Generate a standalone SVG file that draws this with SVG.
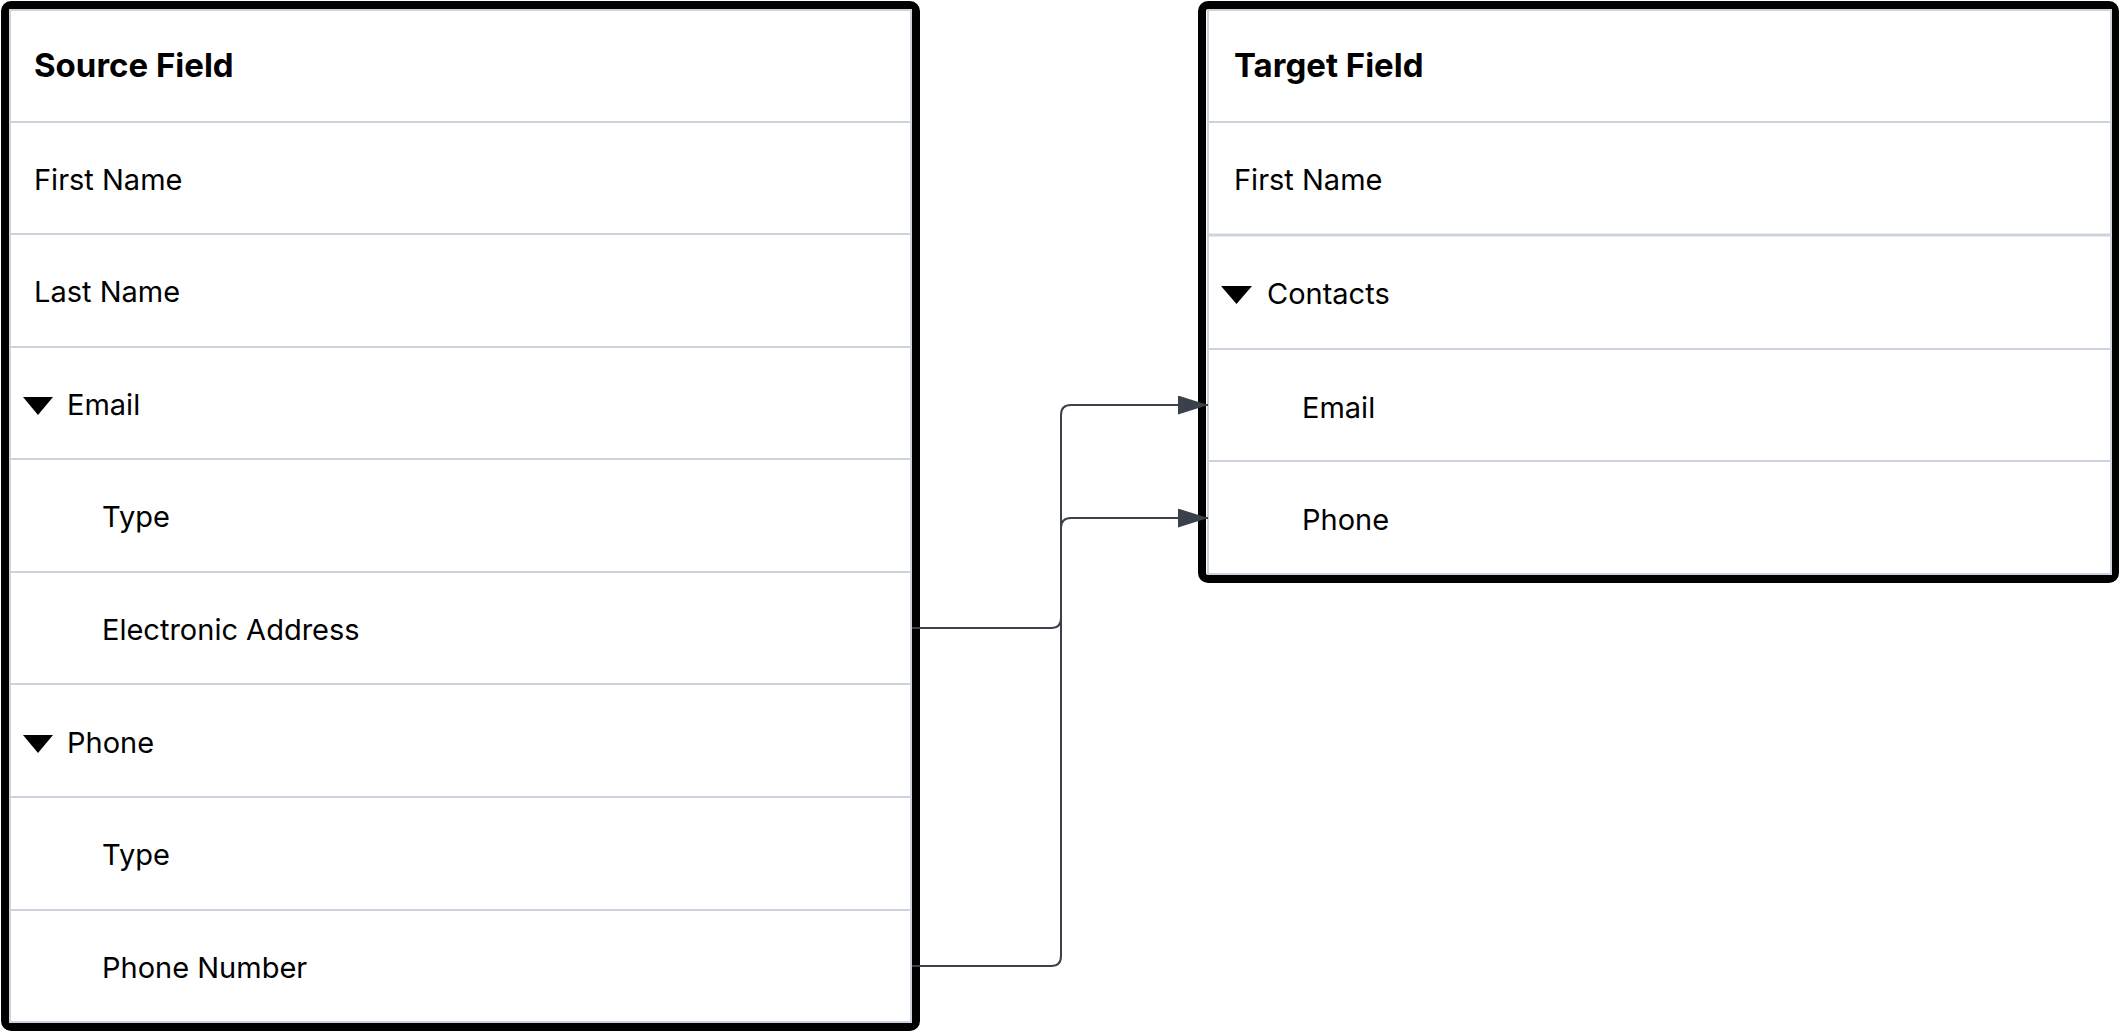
<svg xmlns="http://www.w3.org/2000/svg" width="2119" height="1031" viewBox="0 0 2119 1031">
<style>
.frame{fill:#ffffff;stroke:#000000;stroke-width:8}
.inner{fill:none;stroke:#cdd3dc;stroke-width:2}
.sep{stroke:#cdd3dc;stroke-width:2}
.title{font-family:Inter,"Liberation Sans",sans-serif;font-size:33px;font-weight:700;fill:#000000}
.lbl{font-family:Inter,"Liberation Sans",sans-serif;font-size:29px;fill:#000000}
.tri{fill:#000000}
.conn{fill:none;stroke:#3a414b;stroke-width:2}
</style>
<defs>
<marker id="arr" viewBox="0 0 30 19" refX="30" refY="9.5" markerWidth="30" markerHeight="19" markerUnits="userSpaceOnUse" orient="auto">
<path d="M0,0 L30,9.5 L0,19 Z" fill="#3a414b"/>
</marker>
</defs>
<g id="source-table">
<rect class="frame" x="5" y="5" width="911" height="1022" rx="6"/>
<rect class="inner" x="10" y="10" width="901" height="1012"/>
<line class="sep" x1="10" y1="122" x2="911" y2="122"/>
<line class="sep" x1="10" y1="234" x2="911" y2="234"/>
<line class="sep" x1="10" y1="347" x2="911" y2="347"/>
<line class="sep" x1="10" y1="459" x2="911" y2="459"/>
<line class="sep" x1="10" y1="572" x2="911" y2="572"/>
<line class="sep" x1="10" y1="684" x2="911" y2="684"/>
<line class="sep" x1="10" y1="797" x2="911" y2="797"/>
<line class="sep" x1="10" y1="910" x2="911" y2="910"/>
<text class="title" x="34" y="77">Source Field</text>
<text class="lbl" x="34" y="190">First Name</text>
<text class="lbl" x="34" y="302">Last Name</text>
<path class="tri" d="M23,397 L53,397 L38,415 Z"/>
<text class="lbl" x="67" y="415">Email</text>
<text class="lbl" x="102" y="527">Type</text>
<text class="lbl" x="102" y="640">Electronic Address</text>
<path class="tri" d="M23,735 L53,735 L38,753 Z"/>
<text class="lbl" x="67" y="753">Phone</text>
<text class="lbl" x="102" y="865">Type</text>
<text class="lbl" x="102" y="978">Phone Number</text>
</g>
<g id="target-table">
<rect class="frame" x="1202" y="5" width="913" height="574" rx="6"/>
<rect class="inner" x="1208" y="10" width="903" height="564"/>
<line class="sep" x1="1208" y1="122" x2="2111" y2="122"/>
<line class="sep" x1="1208" y1="235" x2="2111" y2="235" style="stroke-width:3"/>
<line class="sep" x1="1208" y1="349" x2="2111" y2="349"/>
<line class="sep" x1="1208" y1="461" x2="2111" y2="461"/>
<text class="title" x="1234" y="77">Target Field</text>
<text class="lbl" x="1234" y="190">First Name</text>
<path class="tri" d="M1221,286 L1252,286 L1236.5,304 Z"/>
<text class="lbl" x="1267" y="304">Contacts</text>
<text class="lbl" x="1302" y="418">Email</text>
<text class="lbl" x="1302" y="530">Phone</text>
</g>
<g id="connectors">
<path class="conn" marker-end="url(#arr)" d="M912,628 H1051 Q1061,628 1061,618 V415 Q1061,405 1071,405 H1208"/>
<path class="conn" marker-end="url(#arr)" d="M912,966 H1051 Q1061,966 1061,956 V528 Q1061,518 1071,518 H1208"/>
</g>
</svg>
